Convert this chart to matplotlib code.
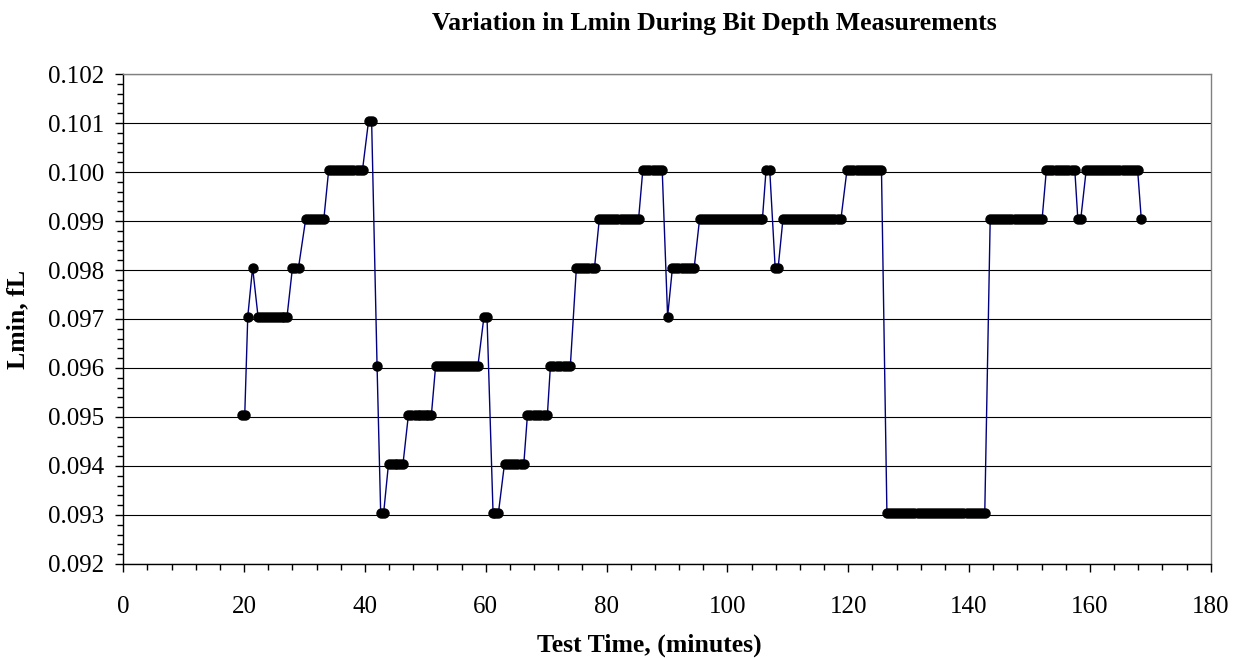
import matplotlib
matplotlib.use("Agg")
import matplotlib.pyplot as plt
from matplotlib.ticker import MultipleLocator, FormatStrFormatter

plt.rcParams['font.family'] = ['Liberation Serif', 'DejaVu Serif']

# Test time of each reading (minutes), one line per plateau
time_min = [
    19.6, 20.1,
    20.6,
    21.4,
    22.3, 22.8, 23.3, 23.7, 24.2, 24.7, 25.2, 25.7, 26.2, 26.6, 27.1,
    28.0, 28.5, 29.0,
    30.2, 30.7, 31.2, 31.7, 32.2, 32.7, 33.2,
    34.0, 34.5, 35.0, 35.5, 36.1, 36.6, 37.1, 37.6, 38.1, 38.6, 39.1, 39.6,
    40.6, 41.1,
    42.0,
    42.6, 43.1,
    43.9, 44.4, 44.9, 45.3, 45.8, 46.3,
    47.2, 47.7, 48.2, 48.7, 49.1, 49.6, 50.1, 50.5, 51.0,
    51.7, 52.2, 52.7, 53.2, 53.7, 54.2, 54.7, 55.2, 55.7, 56.2, 56.7, 57.2, 57.7, 58.2, 58.7,
    59.7, 60.2,
    61.2, 61.6, 62.1,
    63.1, 63.6, 64.2, 64.7, 65.2, 65.8, 66.3,
    66.9, 67.4, 67.9, 68.4, 69.0, 69.6, 70.2,
    70.7, 71.2, 71.8, 72.3, 72.9, 73.5, 74.0,
    75.0, 75.5, 76.0, 76.5, 77.0, 77.5, 78.0,
    78.8, 79.3, 79.8, 80.3, 80.8, 81.3, 81.8, 82.3, 82.8, 83.3, 83.8, 84.3, 84.8, 85.3,
    86.0, 86.5, 87.1, 87.6, 88.1, 88.7, 89.2,
    90.1,
    90.9, 91.4, 91.9, 92.4, 93.0, 93.5, 94.0, 94.5,
    95.4, 95.9, 96.4, 96.9, 97.4, 97.9, 98.4, 98.9, 99.4, 99.9, 100.4, 100.9,
    101.4, 101.9, 102.4, 102.9, 103.4, 103.9, 104.4, 104.9, 105.4, 105.8,
    106.4, 107.0,
    107.9, 108.4,
    109.2, 109.7, 110.2, 110.7, 111.2, 111.7, 112.2, 112.7, 113.2, 113.7,
    114.2, 114.7, 115.2, 115.7, 116.2, 116.7, 117.2, 117.7, 118.3, 118.8,
    119.8, 120.3, 120.8, 121.4, 121.9, 122.4, 122.9, 123.4, 124.0, 124.5, 125.0, 125.5,
    126.4, 126.9, 127.4, 127.9, 128.4, 128.9, 129.4, 129.9, 130.4, 130.9, 131.5,
    132.0, 132.5, 133.0, 133.5, 134.0, 134.5, 135.0, 135.5, 136.0, 136.5, 137.0,
    137.5, 138.0, 138.5, 139.0, 139.6, 140.1, 140.6, 141.1, 141.6, 142.1, 142.6,
    143.5, 144.0, 144.5, 145.0, 145.5, 146.0, 146.5, 147.0, 147.6,
    148.1, 148.6, 149.1, 149.6, 150.1, 150.6, 151.1, 151.6, 152.1,
    152.8, 153.3, 153.8, 154.4, 154.9, 155.4, 155.9, 156.4, 157.0, 157.5,
    158.0, 158.5,
    159.4, 159.9, 160.4, 160.9, 161.4, 161.9, 162.4, 162.9, 163.4,
    163.9, 164.4, 164.9, 165.4, 165.9, 166.4, 166.9, 167.4, 167.9,
    168.5,
]

# Lmin reading for each time above (fL)
lmin_fl = (
    [0.09505] * 2 + [0.09705] * 1 + [0.09805] * 1 + [0.09705] * 11
    + [0.09805] * 3 + [0.09905] * 7 + [0.10005] * 12 + [0.10105] * 2
    + [0.09605] * 1 + [0.09305] * 2 + [0.09405] * 6 + [0.09505] * 9
    + [0.09605] * 15 + [0.09705] * 2 + [0.09305] * 3 + [0.09405] * 7
    + [0.09505] * 7 + [0.09605] * 7 + [0.09805] * 7 + [0.09905] * 14
    + [0.10005] * 7 + [0.09705] * 1 + [0.09805] * 8 + [0.09905] * 22
    + [0.10005] * 2 + [0.09805] * 2 + [0.09905] * 20 + [0.10005] * 12
    + [0.09305] * 33 + [0.09905] * 18 + [0.10005] * 10 + [0.09905] * 2
    + [0.10005] * 18 + [0.09905] * 1
)

fig = plt.figure(figsize=(12.42, 6.58), dpi=100)
ax = fig.add_axes([0.0993, 0.1429, 0.8755, 0.7446])

ax.plot(time_min, lmin_fl, color='#000080', linewidth=1.0,
        marker='o', markersize=6.5, markerfacecolor='black',
        markeredgecolor='black', zorder=3)

ax.set_xlim(0, 180)
ax.set_ylim(0.092, 0.102)
ax.xaxis.set_major_locator(MultipleLocator(20))
ax.xaxis.set_minor_locator(MultipleLocator(4))
ax.yaxis.set_major_locator(MultipleLocator(0.001))
ax.yaxis.set_minor_locator(MultipleLocator(0.0002))
ax.yaxis.set_major_formatter(FormatStrFormatter('%.3f'))

ax.tick_params(axis='both', which='major', direction='out', length=6,
               width=1, labelsize=18, color='black')
ax.tick_params(axis='both', which='minor', direction='out', length=4.3,
               width=1, color='black')
ax.tick_params(axis='x', which='major', pad=17)
ax.tick_params(axis='y', which='major', pad=8)

ax.grid(True, axis='y', which='major', color='black', linewidth=0.8)
ax.set_axisbelow(True)

for side in ['left', 'bottom']:
    ax.spines[side].set_color('black')
    ax.spines[side].set_linewidth(1.0)
for side in ['top', 'right']:
    ax.spines[side].set_color('#808080')
    ax.spines[side].set_linewidth(1.0)

fig.text(0.575, 0.965, 'Variation in Lmin During Bit Depth Measurements',
         ha='center', va='center', fontsize=18.5, fontweight='bold')
fig.text(0.523, 0.020, 'Test Time, (minutes)',
         ha='center', va='center', fontsize=18.5, fontweight='bold')
fig.text(0.0145, 0.515, 'Lmin, fL', rotation=90,
         ha='center', va='center', fontsize=18.5, fontweight='bold')

fig.savefig('out.png', dpi=100)
